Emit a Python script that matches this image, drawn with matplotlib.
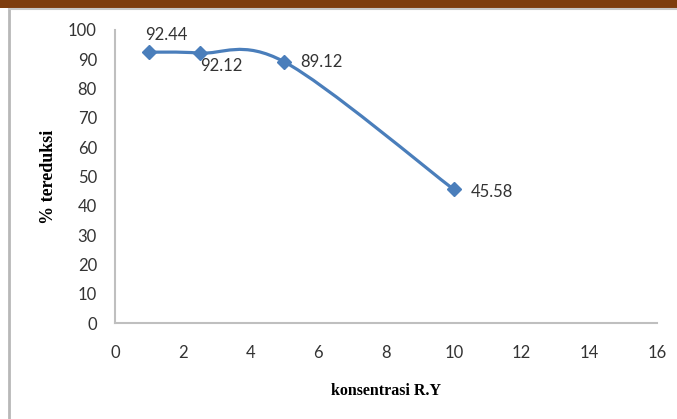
import numpy as np
import matplotlib
matplotlib.use("Agg")
import matplotlib.pyplot as plt
from matplotlib.path import Path
from matplotlib.patches import PathPatch, Rectangle

# Reduction percentage versus R.Y concentration
konsentrasi = [1, 2.5, 5, 10]
tereduksi = [92.44, 92.12, 89.12, 45.58]
labels = ["92.44", "92.12", "89.12", "45.58"]
label_offsets = [(-3, 12.5), (0, -9.5), (11.5, 0), (12.5, -1.5)]

x_ticks = list(range(0, 17, 2))
y_ticks = list(range(0, 101, 10))

blue = "#4a7ebb"
axis_gray = "#bfbfbf"
text_color = "#333333"

fig = plt.figure(figsize=(6.77, 4.19), dpi=100)
W, H = 677, 419

# frame decorations: brown title band and grey chart border
fig.patches.append(Rectangle((0, 1 - 8.5 / H), 1, 8.5 / H, transform=fig.transFigure,
                             facecolor="#7e3d0e", edgecolor="none", zorder=0))
fig.lines.append(plt.Line2D([8.5 / W, 8.5 / W], [0, 1 - 9.5 / H], transform=fig.transFigure,
                            color="#b8b8b8", lw=2))
fig.lines.append(plt.Line2D([8.5 / W, 1], [1 - 9.5 / H, 1 - 9.5 / H], transform=fig.transFigure,
                            color="#c8c8c8", lw=1.5))

ax = fig.add_axes([115 / W, 1 - 323 / H, (657 - 115) / W, (323 - 30) / H])
ax.set_xlim(0, 16)
ax.set_ylim(0, 100)

for s in ["top", "right"]:
    ax.spines[s].set_visible(False)
for s in ["left", "bottom"]:
    ax.spines[s].set_color(axis_gray)
    ax.spines[s].set_linewidth(1.5)

ax.set_xticks(x_ticks)
ax.set_yticks(y_ticks)
ax.tick_params(length=0, labelsize=12, labelcolor=text_color)
ax.tick_params(axis="y", pad=13)
ax.tick_params(axis="x", pad=16)
for lab in ax.get_xticklabels() + ax.get_yticklabels():
    lab.set_family("Lato")

ax.set_xlabel("konsentrasi R.Y", family="Liberation Serif", fontweight="bold",
              fontsize=11.5, labelpad=16)
ax.set_ylabel("% tereduksi", family="Liberation Serif", fontweight="bold",
              fontsize=13, labelpad=8)

# smoothed curve (Catmull-Rom style Bezier built in display space)
pts = ax.transData.transform(np.column_stack([konsentrasi, tereduksi]))
n = len(pts)
verts = [pts[0]]
codes = [Path.MOVETO]
for i in range(n - 1):
    p0 = pts[i - 1] if i > 0 else pts[i]
    p1 = pts[i]
    p2 = pts[i + 1]
    p3 = pts[i + 2] if i + 2 < n else pts[i + 1]
    c1 = p1 + (p2 - p0) / 6.0
    c2 = p2 - (p3 - p1) / 6.0
    verts += [c1, c2, p2]
    codes += [Path.CURVE4] * 3
path = Path(ax.transData.inverted().transform(np.array(verts)), codes)
ax.add_patch(PathPatch(path, facecolor="none", edgecolor=blue, lw=2.3, zorder=3))

ax.plot(konsentrasi, tereduksi, linestyle="none", marker="D", markersize=7,
        color=blue, zorder=4)

for x, y, t, off in zip(konsentrasi, tereduksi, labels, label_offsets):
    ax.annotate(t, (x, y), xytext=off, textcoords="offset points", ha="left", va="center",
                fontsize=12, family="Lato", color=text_color)

fig.savefig("out.png", dpi=100)
